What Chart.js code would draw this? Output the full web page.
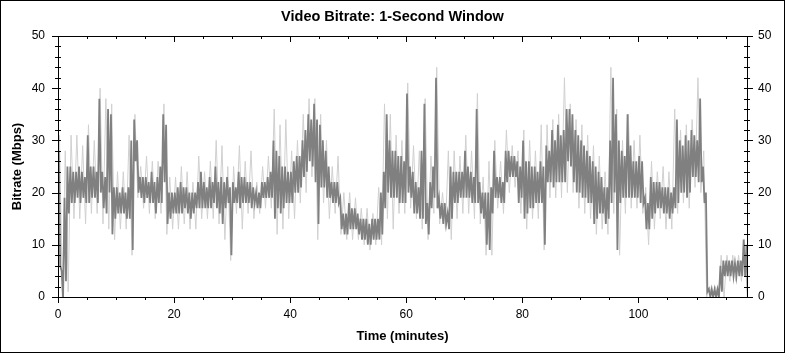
<!DOCTYPE html>
<html lang="en">
<head>
  <meta charset="UTF-8">
  <title>Video Bitrate: 1-Second Window</title>
  <!-- Chart.js -->
  <script src="https://cdn.jsdelivr.net/npm/chart.js"></script>
  <style>
    html, body {
      margin: 0;
      padding: 0;
      background: #fff;
    }
    canvas {
      display: block;
    }
  </style>
</head>
<body>
  <canvas id="bitrateChart" width="785" height="353"></canvas>
  <script>
    // Dense core of the trace (Mbps), one low/high pair per half minute
    const darkLo = [
      6,0, 3,16, 18,18, 19,18, 19,18, 18,19, 19,18, 20,17, 16,20, 12,15,
      16,16, 16,15, 15,9, 26,20, 19,18, 19,18, 18,16, 18,18, 22,14, 15,16,
      16,16, 16,17, 16,15, 16,17, 17,17, 17,17, 17,18, 17,16, 14,17, 18,8,
      18,18, 17,18, 18,18, 17,18, 17,17, 19,19, 19,19, 15,17, 16,17, 18,18,
      18,20, 20,21, 23,24, 26,25, 22,14, 21,21, 19,19, 18,18, 18,13, 12,12,
      13,13, 13,12, 11,11, 10,10, 11,11, 11,12, 17,20, 19,19, 19,18, 18,18,
      20,19, 16,16, 15,15, 14,12, 17,19, 17,15, 14,14, 13,15, 18,18, 19,19,
      19,19, 18,18, 18,16, 15,10, 9,16, 19,19, 18,18, 22,23, 23,23, 18,19,
      15,16, 17,17, 18,18, 18,10, 22,22, 21,22, 22,22, 22,26, 25,22, 20,20,
      19,19, 18,18, 14,15, 16,16, 14,15, 18,20, 9,18, 19,19, 19,19, 19,19,
      18,18, 13,13, 15,16, 17,17, 16,16, 15,16, 17,18, 20,20, 19,20, 23,23,
      22,22, 18,1, 0,0, 0,0, 1,4, 4,4, 4,4, 4,4, 4,0
    ];
    const darkHi = [
      28,5, 19,25, 25,24, 24,25, 24,23, 31,25, 25,24, 38,24, 23,36, 35,21,
      21,20, 21,20, 21,30, 34,30, 23,23, 23,22, 24,22, 23,25, 35,33, 20,20,
      20,21, 22,21, 21,20, 20,20, 22,24, 22,21, 23,22, 25,22, 23,22, 23,21,
      22,21, 24,23, 23,22, 22,21, 20,20, 22,22, 23,24, 30,28, 27,25, 25,24,
      24,26, 27,27, 30,32, 35,34, 37,34, 33,30, 28,25, 22,22, 22,19, 16,16,
      18,17, 17,16, 15,15, 15,14, 15,15, 15,20, 24,35, 30,28, 28,27, 27,26,
      39,25, 24,22, 21,28, 37,18, 22,25, 42,19, 18,18, 16,25, 24,24, 24,24,
      28,25, 24,23, 36,22, 20,20, 20,21, 28,23, 23,22, 28,28, 27,27, 26,25,
      30,26, 26,25, 25,24, 26,25, 29,28, 32,30, 33,31, 32,36, 36,35, 32,31,
      30,29, 28,27, 26,25, 24,23, 21,21, 30,42, 35,30, 28,27, 35,29, 26,26,
      27,26, 19,18, 23,22, 22,22, 21,21, 21,20, 21,34, 30,29, 31,30, 32,31,
      30,38, 25,20, 1.5,1.5, 1.5,1.5, 6,7, 7,7, 7,6.5, 7,7, 11,10
    ];
    // Outer light spikes (Mbps), one low/high pair per minute
    const spikeLo = [
      0, 1, 15, 15, 14, 16, 16, 14, 13, 11,
      13, 13, 8, 19, 17, 16, 15, 16, 12, 13,
      13, 14, 13, 13, 15, 15, 15, 14, 11, 7,
      16, 13, 16, 15, 16, 17, 17, 12, 13, 15,
      15, 18, 20, 23, 11, 18, 15, 16, 12, 11,
      11, 11, 10, 9, 10, 10, 15, 13, 16, 16,
      17, 15, 13, 11, 16, 14, 13, 11, 15, 16,
      16, 15, 14, 8, 8, 17, 16, 20, 21, 16,
      13, 15, 15, 9, 19, 19, 19, 20, 20, 17,
      16, 15, 12, 13, 12, 16, 8, 16, 17, 17,
      16, 10, 13, 15, 13, 13, 16, 18, 17, 21,
      20, 0, 0, 0, 0, 3, 3, 3, 0
    ];
    const spikeHi = [
      31, 28, 31, 31, 29, 33, 30, 40, 38, 37,
      24, 24, 31, 35, 25, 27, 26, 26, 37, 23,
      23, 25, 24, 22, 27, 24, 26, 30, 29, 25,
      25, 29, 26, 28, 22, 25, 27, 36, 33, 34,
      28, 30, 35, 38, 38, 35, 30, 25, 27, 20,
      20, 19, 17, 17, 16, 21, 37, 35, 31, 30,
      41, 29, 28, 38, 27, 44, 20, 28, 28, 27,
      31, 28, 39, 23, 26, 30, 26, 32, 29, 28,
      32, 30, 28, 33, 33, 34, 35, 42, 37, 34,
      33, 31, 29, 27, 24, 44, 36, 30, 35, 30,
      31, 21, 26, 24, 25, 24, 36, 32, 33, 34,
      42, 28, 2, 2, 8, 8, 8, 8, 11
    ];
    const xTicks = [0, 20, 40, 60, 80, 100];
    const yTicks = [0, 10, 20, 30, 40, 50];
    const X_MAX = 118.7;     // length of the title in minutes
    const DARK_STEP = 0.5;   // minutes per core sample
    const SPIKE_STEP = 1;    // minutes per spike sample

    // The trace swings between each sample's high and low, like the dense 1-second line
    function zigzag(lo, hi, step) {
      const pts = [];
      lo.forEach((l, i) => {
        pts.push({ x: (i + 0.25) * step, y: hi[i] });
        pts.push({ x: (i + 0.75) * step, y: l });
      });
      return pts;
    }

    const FONT = "'Liberation Sans', Arial, sans-serif";

    // Plot frame, minor/major tick marks on all four sides, outer border
    const framePlugin = {
      id: 'frame',
      afterDraw(chart) {
        const { ctx, chartArea: a } = chart;
        const xs = chart.scales.x, ys = chart.scales.y;
        ctx.save();
        ctx.strokeStyle = '#000';
        ctx.lineWidth = 1;
        ctx.beginPath();
        ctx.rect(Math.round(a.left) + 0.5, Math.round(a.top) + 0.5,
                 Math.round(a.right - a.left), Math.round(a.bottom - a.top));
        for (let v = 0; v <= X_MAX; v += 5) {
          const px = Math.round(xs.getPixelForValue(v)) + 0.5;
          const len = v % 20 === 0 ? 6 : 3;
          ctx.moveTo(px, a.bottom); ctx.lineTo(px, a.bottom + len);
          ctx.moveTo(px, a.top); ctx.lineTo(px, a.top + len);
        }
        for (let v = 0; v <= 50; v += 2) {
          const py = Math.round(ys.getPixelForValue(v)) + 0.5;
          const major = v % 10 === 0;
          ctx.moveTo(a.left - (major ? 6 : 3), py); ctx.lineTo(a.left + 3, py);
          ctx.moveTo(a.right - 3, py); ctx.lineTo(a.right + (major ? 6 : 3), py);
        }
        ctx.stroke();
        ctx.strokeRect(0.5, 0.5, chart.width - 1, chart.height - 1);
        ctx.restore();
      }
    };

    const ctx = document.getElementById('bitrateChart').getContext('2d');
    new Chart(ctx, {
      type: 'line',
      data: {
        datasets: [
          {
            label: 'Bitrate core',
            data: zigzag(darkLo, darkHi, DARK_STEP),
            borderColor: '#808080',
            borderWidth: 1.8,
            pointRadius: 0,
            tension: 0,
            fill: false
          },
          {
            label: 'Bitrate spikes',
            data: zigzag(spikeLo, spikeHi, SPIKE_STEP),
            borderColor: '#d0d0d0',
            borderWidth: 1,
            pointRadius: 0,
            tension: 0,
            fill: false
          }
        ]
      },
      options: {
        responsive: false,
        animation: false,
        events: [],
        layout: { padding: 0 },
        plugins: {
          legend: { display: false },
          tooltip: { enabled: false },
          title: {
            display: true,
            text: 'Video Bitrate: 1-Second Window',
            color: '#000',
            font: { family: FONT, size: 14.5, weight: 'bold', lineHeight: 1 },
            padding: { top: 10, bottom: 11.5 }
          }
        },
        scales: {
          x: {
            type: 'linear',
            min: 0,
            max: X_MAX,
            offset: false,
            grid: { display: false, drawTicks: false },
            border: { display: false },
            afterBuildTicks: s => { s.ticks = xTicks.map(v => ({ value: v })); },
            afterFit: s => { s.height = 56; },
            ticks: { color: '#000', padding: 10, maxRotation: 0, font: { family: FONT, size: 12 } },
            title: {
              display: true,
              text: 'Time (minutes)',
              color: '#000',
              font: { family: FONT, size: 13, weight: 'bold' },
              padding: { top: 0, bottom: 9 }
            }
          },
          y: {
            position: 'left',
            min: 0,
            max: 50,
            grid: { display: false, drawTicks: false },
            border: { display: false },
            afterBuildTicks: s => { s.ticks = yTicks.map(v => ({ value: v })); },
            afterFit: s => { s.width = 58; },
            ticks: { color: '#000', padding: 13, font: { family: FONT, size: 12 } },
            title: {
              display: true,
              text: 'Bitrate (Mbps)',
              color: '#000',
              font: { family: FONT, size: 13, weight: 'bold' },
              padding: { top: 10, bottom: 0 }
            }
          },
          y2: {
            position: 'right',
            min: 0,
            max: 50,
            grid: { display: false, drawTicks: false },
            border: { display: false },
            afterBuildTicks: s => { s.ticks = yTicks.map(v => ({ value: v })); },
            afterFit: s => { s.width = 38; },
            ticks: { color: '#000', padding: 11, font: { family: FONT, size: 12 } }
          }
        }
      },
      plugins: [framePlugin]
    });
  </script>
</body>
</html>
